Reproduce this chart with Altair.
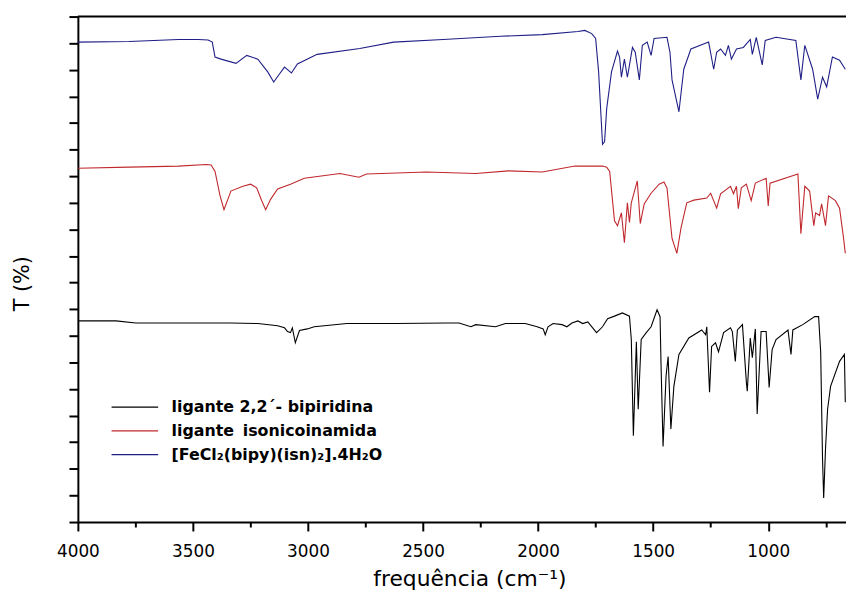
import altair as alt
import pandas as pd

# Series names (legend order) and colours
series_names = ["ligante 2,2´- bipiridina", "ligante\u2009 isonicoinamida", "[FeCl₂(bipy)(isn)₂].4H₂O"]
series_colors = ["#000000", "#c0282d", "#1f1f86"]

# x tick values
all_ticks = [4000, 3750, 3500, 3250, 3000, 2750, 2500, 2250, 2000, 1750, 1500, 1250, 1000, 750]
y_ticks = [0, 5, 10, 15, 20, 25, 30, 35, 40, 45, 50, 55, 60, 65, 70, 75, 80, 85, 90, 95]

# (wavenumber cm-1, T offset %)
bipy = [(4000, 37.8), (3834, 37.8), (3748, 37.4), (3593, 37.4), (3335, 37.4), (3218, 37.3),
        (3132, 36.9), (3102, 36.5), (3089, 35.8), (3076, 35.6), (3068, 36.5), (3055, 33.7),
        (3037, 36.0), (3003, 36.3), (2973, 36.7), (2831, 37.3), (2615, 37.3), (2400, 37.4),
        (2344, 37.4), (2292, 36.7), (2271, 37.1), (2185, 36.7), (2142, 37.3), (2056, 37.3),
        (2004, 36.7), (1978, 36.3), (1969, 35.2), (1957, 36.7), (1935, 37.3), (1896, 37.1),
        (1875, 36.7), (1853, 37.4), (1827, 37.8), (1806, 37.3), (1784, 37.6), (1746, 35.6),
        (1720, 36.7), (1698, 38.2), (1668, 38.7), (1634, 39.3), (1603, 38.7), (1595, 34.3),
        (1586, 16.2), (1573, 33.9), (1565, 21.2), (1552, 34.3), (1530, 35.6), (1509, 36.7),
        (1483, 39.9), (1470, 38.6), (1466, 30.0), (1457, 14.2), (1444, 27.4), (1435, 31.1),
        (1423, 17.5), (1410, 25.5), (1388, 31.5), (1345, 34.6), (1289, 36.1), (1272, 35.2),
        (1267, 36.7), (1255, 24.4), (1246, 33.0), (1229, 33.7), (1216, 32.0), (1194, 35.6),
        (1164, 36.5), (1156, 35.8), (1143, 30.2), (1134, 36.1), (1112, 37.1), (1095, 26.3),
        (1091, 24.6), (1078, 34.6), (1069, 30.9), (1056, 36.3), (1048, 20.3), (1031, 35.8),
        (1009, 35.8), (996, 25.3), (983, 32.4), (966, 34.3), (914, 36.1), (901, 31.5),
        (893, 36.1), (850, 37.1), (798, 38.6), (781, 38.6), (772, 31.9), (764, 11.9),
        (759, 4.5), (751, 13.8), (742, 21.2), (729, 25.5), (690, 30.2), (669, 31.5), (665, 22.5)]

isn = [(4000, 66.5), (3778, 66.7), (3563, 66.9), (3442, 67.2), (3421, 67.1), (3404, 65.9),
       (3382, 61.3), (3365, 58.7), (3348, 60.7), (3335, 62.2), (3283, 63.1), (3249, 63.5),
       (3223, 62.8), (3201, 60.4), (3184, 58.7), (3162, 60.7), (3132, 62.6), (3076, 63.5),
       (3016, 64.6), (2861, 65.5), (2779, 64.8), (2745, 65.4), (2486, 65.8), (2271, 65.5),
       (2129, 66.0), (1982, 65.8), (1840, 66.9), (1720, 66.9), (1702, 66.7), (1689, 65.9),
       (1668, 56.6), (1655, 55.7), (1638, 58.1), (1625, 52.5), (1612, 60.0), (1603, 56.3),
       (1595, 60.0), (1569, 64.1), (1556, 56.1), (1539, 59.8), (1509, 61.8), (1474, 63.5),
       (1453, 63.9), (1440, 62.8), (1418, 53.3), (1397, 50.5), (1379, 55.3), (1354, 60.0),
       (1323, 60.5), (1267, 60.9), (1250, 61.8), (1224, 59.0), (1207, 61.7), (1164, 63.1),
       (1151, 61.7), (1138, 63.1), (1130, 58.9), (1117, 62.8), (1095, 63.5), (1074, 60.4),
       (1056, 63.7), (1009, 64.6), (1000, 59.4), (992, 63.7), (871, 65.4), (858, 54.2),
       (841, 63.1), (820, 62.2), (802, 55.7), (794, 58.1), (777, 57.6), (768, 59.8),
       (751, 55.7), (738, 61.3), (708, 60.4), (690, 59.0), (673, 53.5), (665, 50.5)]

complexo = [(4000, 90.2), (3778, 90.3), (3563, 90.7), (3477, 90.7), (3434, 90.6), (3416, 90.2),
            (3404, 87.4), (3378, 87.0), (3313, 86.2), (3266, 87.7), (3218, 87.0), (3175, 84.6),
            (3149, 82.7), (3124, 84.2), (3102, 85.5), (3085, 84.9), (3072, 84.4), (3046, 86.1),
            (2960, 87.9), (2775, 89.0), (2628, 90.2), (2413, 90.7), (2163, 91.3), (1982, 91.6),
            (1827, 92.2), (1797, 92.4), (1767, 91.8), (1750, 90.9), (1737, 84.6), (1720, 71.0),
            (1711, 71.5), (1702, 77.7), (1681, 84.6), (1655, 88.5), (1646, 87.4), (1638, 83.6),
            (1625, 87.0), (1612, 83.6), (1590, 89.2), (1578, 88.3), (1560, 83.1), (1547, 89.6),
            (1526, 90.2), (1509, 87.7), (1496, 90.9), (1440, 91.1), (1427, 88.3), (1418, 83.1),
            (1388, 77.1), (1367, 85.1), (1336, 88.9), (1259, 90.2), (1237, 85.1), (1224, 88.3),
            (1207, 88.9), (1186, 87.7), (1173, 89.6), (1160, 87.0), (1138, 88.9), (1108, 89.2),
            (1078, 90.7), (1069, 87.9), (1052, 91.1), (1026, 85.9), (1013, 90.5), (966, 91.1),
            (880, 90.5), (858, 83.1), (841, 89.6), (807, 85.1), (785, 79.5), (764, 83.6),
            (746, 81.8), (721, 87.4), (690, 86.8), (665, 85.1)]

rows = []
for name, pts in zip(series_names, [bipy, isn, complexo]):
    for wn, t in pts:
        rows.append({"wn": wn, "t": t, "serie": name})
df = pd.DataFrame(rows)

W, H = 775, 510
FONT = "DejaVu Sans"

lines = alt.Chart(df).mark_line(strokeWidth=1.1, clip=True).encode(
    x=alt.X(
        "wn:Q",
        title="frequência (cm⁻¹)",
        scale=alt.Scale(domain=[4000, 662], nice=False, zero=False),
        axis=alt.Axis(
            values=all_ticks,
            format="d",
            labelExpr="datum.value % 500 === 0 ? datum.label : ''",
            tickSize={"condition": {"test": "datum.value % 500 === 0", "value": 9}, "value": 5},
            labelPadding=13,
            labelFlush=False,
            labelOverlap=False,
            grid=False,
            domainWidth=2,
            tickWidth=2,
            domainColor="black",
            tickColor="black",
            labelColor="black",
            labelFont=FONT,
            labelFontSize=17,
            titleFont=FONT,
            titleFontSize=22,
            titleFontWeight="normal",
            titleColor="black",
            titleBaseline="alphabetic",
            titleAlign="center",
            titleX=395,
            titleY=64,
        ),
    ),
    y=alt.Y(
        "t:Q",
        title="T (%)",
        scale=alt.Scale(domain=[0, 95], nice=False, zero=False),
        axis=alt.Axis(
            values=y_ticks,
            labels=False,
            tickSize=9,
            tickWidth=2,
            domainWidth=2,
            domainColor="black",
            tickColor="black",
            grid=False,
            titleFont=FONT,
            titleFontSize=21,
            titleFontWeight="normal",
            titleColor="black",
            titleAngle=270,
            titleAlign="center",
            titleBaseline="alphabetic",
            titleX=-50,
            titleY=269,
        ),
    ),
    color=alt.Color(
        "serie:N",
        scale=alt.Scale(domain=series_names, range=series_colors),
        sort=series_names,
        legend=alt.Legend(
            title=None,
            orient="none",
            legendX=49.5,
            legendY=386,
            symbolType="M-4.7,0H4.7",
            symbolSize=100,
            symbolStrokeWidth=1.2,
            symbolFillColor="transparent",
            labelFont=FONT,
            labelFontWeight="bold",
            labelFontSize=16,
            labelColor="black",
            labelOffset=29,
            labelLimit=400,
            rowPadding=8,
            padding=0,
        ),
    ),
)

frame = alt.Chart(pd.DataFrame({"k": [0]})).mark_rule(color="black", strokeWidth=2).encode(
    x=alt.value(0), x2=alt.value(W), y=alt.value(0)
)

chart = alt.layer(lines, frame).properties(
    width=W,
    height=H,
    padding={"left": 70.5, "top": 6, "right": 0, "bottom": 75},
    autosize=alt.AutoSizeParams(type="none"),
    background="white",
).configure_view(stroke=None)

chart.save("out.html", embed_options={"renderer": "svg", "actions": False})
